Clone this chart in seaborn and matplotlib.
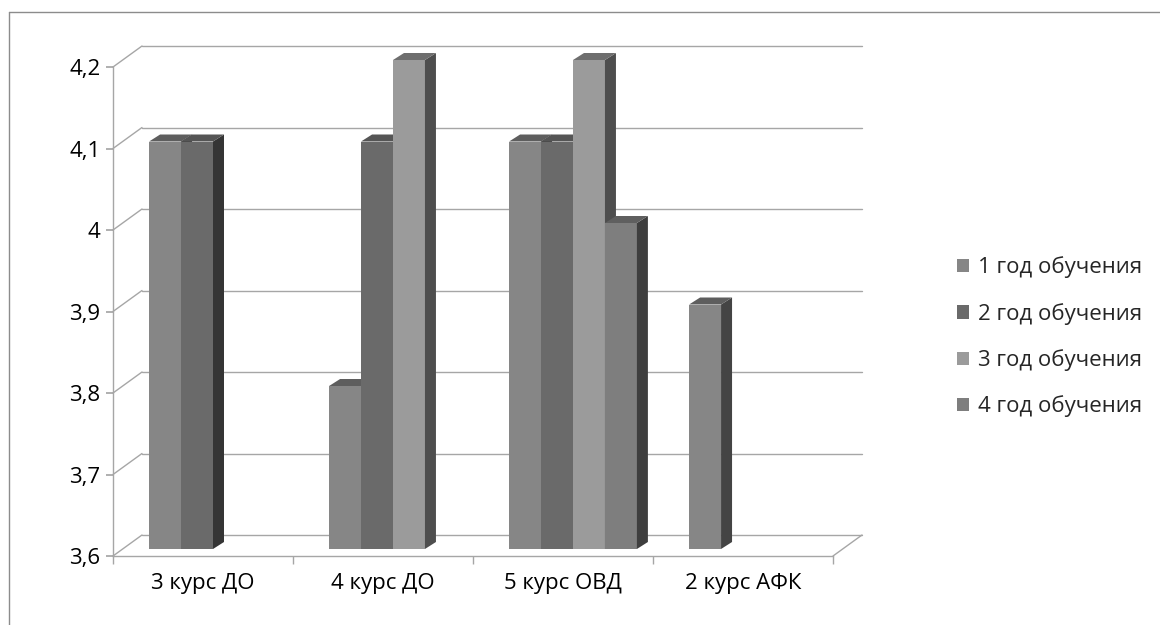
import numpy as np
import pandas as pd
import matplotlib.pyplot as plt
import seaborn as sns
from matplotlib.patches import Polygon, Patch
from matplotlib.lines import Line2D
from matplotlib.ticker import FuncFormatter

# данные
categories = ['3 курс ДО', '4 курс ДО', '5 курс ОВД', '2 курс АФК']
years = ['1 год обучения', '2 год обучения', '3 год обучения', '4 год обучения']
year1 = [4.1, 3.8, 4.1, 3.9]
year2 = [4.1, 4.1, 4.1, np.nan]
year3 = [np.nan, 4.2, 4.2, np.nan]
year4 = [np.nan, np.nan, 4.0, np.nan]
yticks = [3.6, 3.7, 3.8, 3.9, 4.0, 4.1, 4.2]

front_colors = ['#868686', '#6a6a6a', '#9b9b9b', '#7e7e7e']
side_colors = ['#444444', '#353535', '#4e4e4e', '#3e3e3e']
top_colors = ['#5e5e5e', '#555555', '#6e6e6e', '#5f5f5f']
line_col = '#a6a6a6'

rows = []
for y, vals in zip(years, [year1, year2, year3, year4]):
    for c, v in zip(categories, vals):
        if not np.isnan(v):
            rows.append({'курс': c, 'год': y, 'оценка': v})
df = pd.DataFrame(rows)

sns.set_theme(style='white')
plt.rcParams['font.family'] = ['Open Sans', 'DejaVu Sans']
fs = 16

W, H = 1160, 625
fig = plt.figure(figsize=(W / 100, H / 100), dpi=100)
ax = fig.add_axes([113 / W, 69 / H, 720 / W, 489 / H])

sns.barplot(data=df, x='курс', y='оценка', hue='год', order=categories,
            hue_order=years, palette=front_colors, width=0.71, saturation=1,
            legend=False, linewidth=0, ax=ax)

ymin, ymax = 3.6, 4.2
ax.set_xlim(-0.5, 3.5)
ax.set_ylim(ymin, ymax)
ax.set_xlabel('')
ax.set_ylabel('')

# пиксели -> единицы данных
sx = 4 / 720
sy = (ymax - ymin) / 489
def d(px, py):
    return px * sx, py * sy

ox, oy = d(10, 7)     # смещение передней грани столбика
dx, dy = d(11, 7)     # глубина столбика
bx, by = d(29, 21)    # задняя стенка

# псевдо-3D столбики
bars = []
for k, cont in enumerate(ax.containers):
    for p in cont.patches:
        h = p.get_height()
        if not np.isfinite(h) or h <= 0:
            continue
        bars.append((p, k))
bars.sort(key=lambda t: t[0].get_x())
for rank, (p, k) in enumerate(bars):
    h = p.get_height()
    p.set_x(p.get_x() + ox)
    p.set_y(ymin + oy)
    p.set_height(h - ymin)
    p.set_clip_on(False)
    z = 3 + rank * 0.01
    p.set_zorder(z)
    x0, x1 = p.get_x(), p.get_x() + p.get_width()
    y0, y1 = p.get_y(), p.get_y() + p.get_height()
    side = Polygon([(x1, y0), (x1 + dx, y0 + dy), (x1 + dx, y1 + dy), (x1, y1)],
                   closed=True, facecolor=side_colors[k], edgecolor='none',
                   zorder=z, clip_on=False)
    top = Polygon([(x0, y1), (x0 + dx, y1 + dy), (x1 + dx, y1 + dy), (x1, y1)],
                  closed=True, facecolor=top_colors[k], edgecolor='none',
                  zorder=z, clip_on=False)
    ax.add_patch(side)
    ax.add_patch(top)

# задняя стенка и пол
for v in yticks:
    ax.plot([-0.5 + bx, 3.5 + bx], [v + by, v + by], color=line_col, lw=1,
            clip_on=False, zorder=1)
    ax.plot([-0.5, -0.5 + bx], [v, v + by], color=line_col, lw=1,
            clip_on=False, zorder=1)
ax.plot([3.5, 3.5 + bx], [ymin, ymin + by], color=line_col, lw=1,
        clip_on=False, zorder=1)

# оси
for s in ['top', 'right']:
    ax.spines[s].set_visible(False)
for s in ['left', 'bottom']:
    ax.spines[s].set_color(line_col)
    ax.spines[s].set_linewidth(1)

ax.set_yticks(yticks)
ax.yaxis.set_major_formatter(FuncFormatter(lambda v, pos: f'{v:g}'.replace('.', ',')))
ax.tick_params(axis='y', left=True, length=5, color=line_col, labelsize=fs,
               pad=4, labelcolor='black')
ax.set_xticks(range(len(categories)))
ax.set_xticklabels(categories)
ax.set_xticks([-0.5, 0.5, 1.5, 2.5, 3.5], minor=True)
ax.tick_params(axis='x', which='major', length=0, labelsize=fs, pad=12,
               labelcolor='black')
ax.tick_params(axis='x', which='minor', bottom=True, length=6, color=line_col)

handles = [Patch(facecolor=c, edgecolor='none', label=y)
           for c, y in zip(front_colors, years)]
fig.legend(handles=handles, loc='center left',
           bbox_to_anchor=(937 / W, 1 - 337 / H), frameon=False, fontsize=fs,
           handlelength=0.55, handleheight=0.55, labelspacing=1.1,
           handletextpad=0.4)

# рамка диаграммы
fig.add_artist(Line2D([9 / W, 9 / W], [0, 1 - 12 / H], transform=fig.transFigure,
                      color='#8c8c8c', lw=1))
fig.add_artist(Line2D([9 / W, 1], [1 - 12 / H, 1 - 12 / H], transform=fig.transFigure,
                      color='#8c8c8c', lw=1))

fig.savefig('out.png', dpi=100)
